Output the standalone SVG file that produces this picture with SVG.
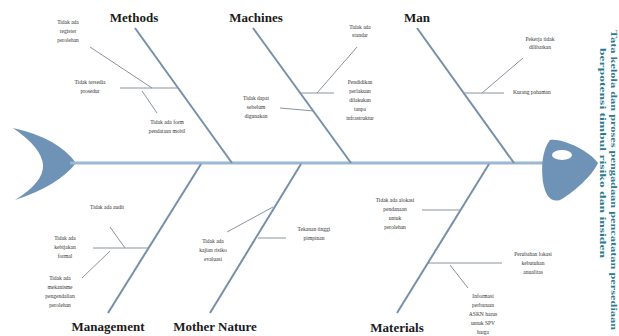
<svg xmlns="http://www.w3.org/2000/svg" width="619" height="336" viewBox="0 0 619 336">
  <style>
    .spine { stroke: #9ab8d2; stroke-width: 3; fill: none; }
    .bone { stroke: #7790a8; stroke-width: 2; fill: none; }
    .sub { stroke: #8a949e; stroke-width: 1; fill: none; }
    .fish { fill: #6f93b6; }
    .cat { font-family: "Liberation Serif", "Times New Roman", serif; font-weight: bold; font-size: 13px; fill: #1a1a1a; text-anchor: middle; }
    .lbl { font-family: "Liberation Serif", "Times New Roman", serif; font-size: 5.5px; fill: #333; text-anchor: middle; }
    .lbl-l { text-anchor: start; }
    .side { font-family: "Liberation Serif", "Times New Roman", serif; font-weight: bold; font-size: 8px; fill: #2b7a90; }
  </style>
  <rect width="619" height="336" fill="#ffffff"/>

  <!-- tail and head -->
  <g id="tail">
    <path class="fish" d="M13,128 Q58,138 76,163 Q58,186 15,200 Q44,182 43,165 Q42,148 13,128 Z"/>
  </g>

  <g id="connectors">
    <line class="spine" x1="70" y1="163" x2="546" y2="163"/>
    <!-- upper bones -->
    <line class="bone" x1="135" y1="28" x2="232" y2="163"/>
    <line class="bone" x1="253" y1="28" x2="351" y2="163"/>
    <line class="bone" x1="417" y1="28" x2="514" y2="163"/>
    <!-- lower bones -->
    <line class="bone" x1="201" y1="164" x2="108" y2="313"/>
    <line class="bone" x1="301" y1="164" x2="210" y2="313"/>
    <line class="bone" x1="489" y1="164" x2="397" y2="313"/>

    <!-- Methods branches -->
    <line class="sub" x1="90" y1="47" x2="152" y2="88"/>
    <line class="sub" x1="120" y1="88" x2="178" y2="88"/>
    <line class="sub" x1="142" y1="91" x2="157" y2="113"/>
    <!-- Machines branches -->
    <line class="sub" x1="357" y1="47" x2="317" y2="93"/>
    <line class="sub" x1="300" y1="93" x2="334" y2="93"/>
    <line class="sub" x1="280" y1="108" x2="314" y2="111"/>
    <!-- Man branches -->
    <line class="sub" x1="523" y1="58" x2="482" y2="93"/>
    <line class="sub" x1="464" y1="93" x2="504" y2="93"/>
    <!-- Management branches -->
    <line class="sub" x1="110" y1="227" x2="125" y2="248"/>
    <line class="sub" x1="93" y1="248" x2="148" y2="248"/>
    <line class="sub" x1="82" y1="278" x2="110" y2="251"/>
    <!-- Mother Nature branches -->
    <line class="sub" x1="227" y1="232" x2="273" y2="207"/>
    <line class="sub" x1="258" y1="238" x2="286" y2="238"/>
    <!-- Materials branches -->
    <line class="sub" x1="422" y1="210" x2="460" y2="210"/>
    <line class="sub" x1="428" y1="263" x2="502" y2="263"/>
    <line class="sub" x1="450" y1="265" x2="468" y2="288"/>
  </g>

  <g id="head">
    <path class="fish" d="M550,140 C562,138 588,150 598,163 C592,176 574,192 560,200 C550,203 545,194 543,182 C541,168 542,150 550,140 Z"/>
    <ellipse cx="562" cy="155" rx="10" ry="5" fill="#ffffff"/>
  </g>

  <g id="methods">
    <text class="cat" x="134" y="22">Methods</text>
    <text class="lbl" x="68" y="24">Tidak ada</text>
    <text class="lbl" x="68" y="33">register</text>
    <text class="lbl" x="68" y="42">perolehan</text>
    <text class="lbl" x="90" y="84">Tidak tersedia</text>
    <text class="lbl" x="90" y="93">prosedur</text>
    <text class="lbl" x="167" y="124">Tidak ada form</text>
    <text class="lbl" x="167" y="133">pendataan mobil</text>
  </g>

  <g id="machines">
    <text class="cat" x="256" y="22">Machines</text>
    <text class="lbl" x="360" y="29">Tidak ada</text>
    <text class="lbl" x="360" y="37">standar</text>
    <text class="lbl" x="360" y="84">Pendidikan</text>
    <text class="lbl" x="360" y="93">perlakuan</text>
    <text class="lbl" x="360" y="102">dilakukan</text>
    <text class="lbl" x="360" y="111">tanpa</text>
    <text class="lbl" x="360" y="120">infrastruktur</text>
    <text class="lbl" x="256" y="100">Tidak dapat</text>
    <text class="lbl" x="256" y="109">sebelum</text>
    <text class="lbl" x="256" y="118">digunakan</text>
  </g>

  <g id="man">
    <text class="cat" x="417" y="22">Man</text>
    <text class="lbl" x="540" y="41">Pekerja tidak</text>
    <text class="lbl" x="540" y="49">dilibatkan</text>
    <text class="lbl lbl-l" x="513" y="94">Kurang pahaman</text>
  </g>

  <g id="management">
    <text class="cat" x="108" y="331">Management</text>
    <text class="lbl" x="107" y="209">Tidak ada audit</text>
    <text class="lbl" x="65" y="240">Tidak ada</text>
    <text class="lbl" x="65" y="249">kebijakan</text>
    <text class="lbl" x="65" y="258">formal</text>
    <text class="lbl" x="60" y="280">Tidak ada</text>
    <text class="lbl" x="60" y="289">mekanisme</text>
    <text class="lbl" x="60" y="298">pengendalian</text>
    <text class="lbl" x="60" y="307">perolehan</text>
  </g>

  <g id="mother-nature">
    <text class="cat" x="215" y="331">Mother Nature</text>
    <text class="lbl" x="213" y="243">Tidak ada</text>
    <text class="lbl" x="213" y="252">kajian risiko</text>
    <text class="lbl" x="213" y="261">evaluasi</text>
    <text class="lbl" x="314" y="231">Tekanan tinggi</text>
    <text class="lbl" x="314" y="240">pimpinan</text>
  </g>

  <g id="materials">
    <text class="cat" x="397" y="332">Materials</text>
    <text class="lbl" x="395" y="202">Tidak ada alokasi</text>
    <text class="lbl" x="395" y="211">pendanaan</text>
    <text class="lbl" x="395" y="220">untuk</text>
    <text class="lbl" x="395" y="229">perolehan</text>
    <text class="lbl" x="533" y="256">Perubahan lokasi</text>
    <text class="lbl" x="533" y="265">kebutuhan</text>
    <text class="lbl" x="533" y="274">anualitas</text>
    <text class="lbl" x="483" y="298">Informasi</text>
    <text class="lbl" x="483" y="307">perbaruan</text>
    <text class="lbl" x="483" y="316">ASKN harus</text>
    <text class="lbl" x="483" y="325">untuk SPV</text>
    <text class="lbl" x="483" y="334">harga</text>
  </g>

  <!-- problem statement, written vertically beside the head -->
  <g id="effect">
    <text class="side" transform="translate(611,30) rotate(90)" textLength="300" lengthAdjust="spacingAndGlyphs">Tata kelola dan proses pengadaan pencatatan persediaan</text>
    <text class="side" transform="translate(600,48) rotate(90)" textLength="210" lengthAdjust="spacingAndGlyphs">berpotensi timbul risiko dan insiden</text>
  </g>
</svg>
